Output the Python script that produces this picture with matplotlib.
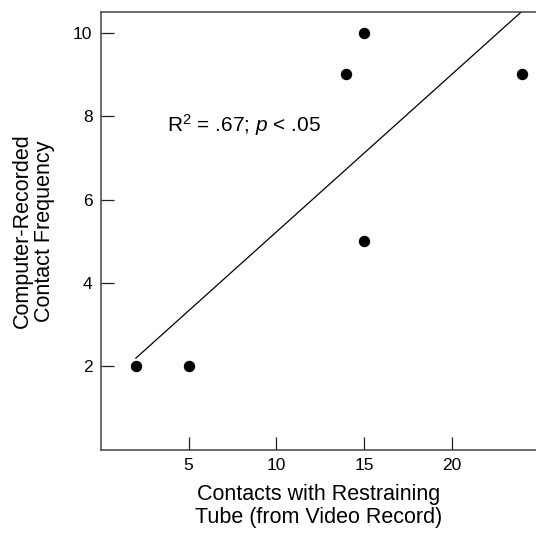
import numpy as np
import matplotlib
matplotlib.use("Agg")
import matplotlib.pyplot as plt

plt.rcParams["font.family"] = ["Liberation Sans", "DejaVu Sans"]
plt.rcParams["mathtext.fontset"] = "custom"
plt.rcParams["mathtext.rm"] = "Liberation Sans"
plt.rcParams["mathtext.it"] = "Liberation Sans:italic"

# video-recorded contacts vs computer-recorded contact frequency
video_contacts = [2, 5, 14, 15, 15, 24]
computer_freq = [2, 2, 9, 10, 5, 9]
x_ticks = [5, 10, 15, 20]
y_ticks = [2, 4, 6, 8, 10]

fig = plt.figure(figsize=(5.36, 5.40), dpi=100)
ax = fig.add_axes([0.188, 0.167, 0.812, 0.811])

ax.plot(video_contacts, computer_freq, "o", color="black", markersize=7.2, zorder=3)

# least-squares fit line, starting at the first point and running off the top
slope, icpt = np.polyfit(video_contacts, computer_freq, 1)
xs = np.array([min(video_contacts), 30])
ax.plot(xs, icpt + slope * xs, color="black", lw=0.9)

ax.text(3.8, 7.62, r"R$^{2}$ = .67; $p$ < .05", fontsize=15, va="baseline")

ax.set_xlim(0, 24.8)
ax.set_ylim(0, 10.5)
ax.set_xticks(x_ticks)
ax.set_yticks(y_ticks)
ax.tick_params(direction="in", length=9.5, width=0.9, labelsize=12.5, pad=6, color="#222222")

for s in ["left", "bottom", "top"]:
    ax.spines[s].set_linewidth(1.1)
    ax.spines[s].set_color("#444444")
ax.spines["right"].set_visible(False)

ax.set_xlabel("Contacts with Restraining\nTube (from Video Record)", fontsize=15.5,
              labelpad=8, linespacing=1.1)
ax.set_ylabel("Computer-Recorded\nContact Frequency", fontsize=15.5,
              labelpad=13, linespacing=1.1)

fig.savefig("out.png", dpi=100)
